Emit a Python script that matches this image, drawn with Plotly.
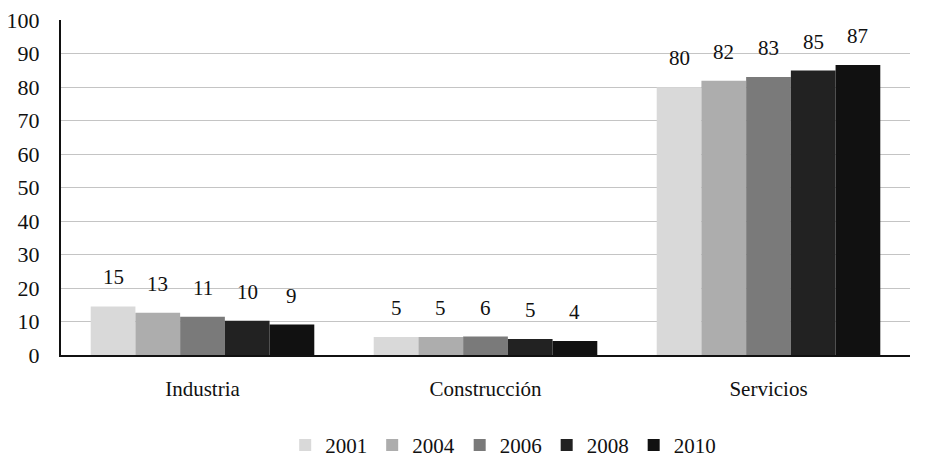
import plotly.graph_objects as go

categories = ["Industria", "Construcción", "Servicios"]
years = ["2001", "2004", "2006", "2008", "2010"]
values = {
    "2001": [14.5, 5.4, 79.9],
    "2004": [12.6, 5.4, 81.9],
    "2006": [11.4, 5.5, 83.0],
    "2008": [10.2, 4.8, 84.9],
    "2010": [9.1, 4.2, 86.6],
}
labels = {
    "2001": ["15", "5", "80"],
    "2004": ["13", "5", "82"],
    "2006": ["11", "6", "83"],
    "2008": ["10", "5", "85"],
    "2010": ["9", "4", "87"],
}
colors = {
    "2001": "#d9d9d9",
    "2004": "#adadad",
    "2006": "#7a7a7a",
    "2008": "#222222",
    "2010": "#111111",
}
y_ticks = list(range(0, 101, 10))

font_family = "Liberation Serif, Times New Roman, Times, serif"
bargap = 0.21
n = len(years)
bar_w = (1 - bargap) / n

fig = go.Figure()
annotations = []
for j, yr in enumerate(years):
    fig.add_trace(go.Bar(
        name=yr,
        x=categories,
        y=values[yr],
        marker=dict(color=colors[yr], line=dict(width=0)),
    ))
    for i, cat in enumerate(categories):
        annotations.append(dict(
            x=i + (j - (n - 1) / 2) * bar_w,
            y=values[yr][i],
            xref="x",
            yref="y",
            text=labels[yr][i],
            showarrow=False,
            yanchor="bottom",
            yshift=15,
            font=dict(family=font_family, size=21, color="#111111"),
        ))

fig.update_layout(
    barmode="group",
    bargap=bargap,
    bargroupgap=0,
    width=917,
    height=457,
    margin=dict(l=53, r=15, t=12, b=110, autoexpand=False),
    paper_bgcolor="white",
    plot_bgcolor="white",
    font=dict(family=font_family, color="#111111"),
    showlegend=True,
    legend=dict(
        orientation="h",
        x=0.54,
        xanchor="center",
        xref="container",
        yref="paper",
        y=-0.27,
        yanchor="middle",
        font=dict(family=font_family, size=21, color="#111111"),
        traceorder="normal",
    ),
    annotations=annotations,
    xaxis=dict(
        type="category",
        showline=True,
        linecolor="#111111",
        linewidth=2,
        ticks="",
        ticklabelstandoff=14,
        tickfont=dict(family=font_family, size=21, color="#111111"),
        showgrid=False,
        automargin=False,
    ),
    yaxis=dict(
        range=[0, 100],
        tickvals=y_ticks,
        showline=True,
        linecolor="#111111",
        linewidth=2,
        showgrid=True,
        gridcolor="#c4c4c4",
        gridwidth=1,
        ticks="",
        ticklabelstandoff=15,
        ticklabeloverflow="allow",
        tickfont=dict(family=font_family, size=22, color="#111111"),
        zeroline=False,
        automargin=False,
    ),
)

fig.write_html("out.html")
